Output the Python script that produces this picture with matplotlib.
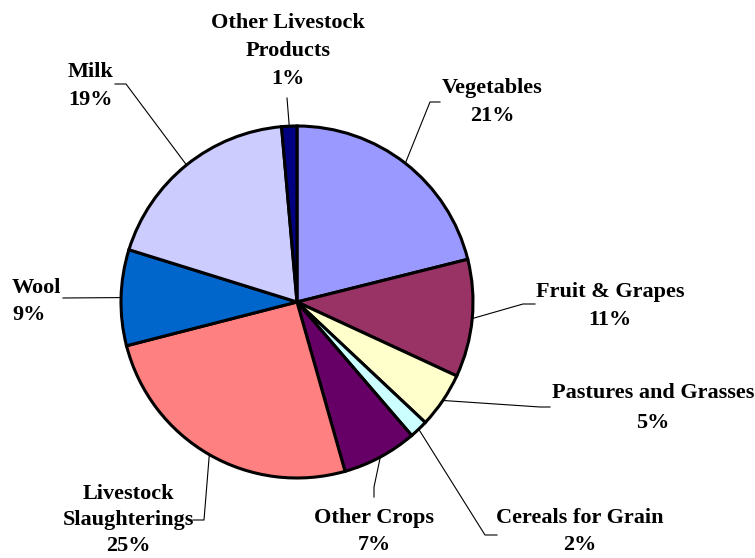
import matplotlib
matplotlib.use("Agg")
import matplotlib.pyplot as plt
import numpy as np

categories = ["Vegetables", "Fruit & Grapes", "Pastures and Grasses", "Cereals for Grain",
              "Other Crops", "Livestock\nSlaughterings", "Wool", "Milk",
              "Other Livestock\nProducts"]
values = [21.1, 10.8, 5.1, 1.7, 6.9, 25.4, 8.8, 18.8, 1.4]
colors = ["#9999FF", "#993366", "#FFFFCC", "#CCFFFF", "#660066",
          "#FF8080", "#0066CC", "#CCCCFF", "#000080"]

W, H = 755, 558
fig = plt.figure(figsize=(W / 100, H / 100), dpi=100)
ax = fig.add_axes([0, 0, 1, 1])

cx, cy, R = 297, H - 302, 176
wedges, _ = ax.pie(values, colors=colors, startangle=90, counterclock=False,
                   center=(cx, cy), radius=R, frame=True,
                   wedgeprops=dict(edgecolor="black", linewidth=2.2))
ax.set_xlim(0, W)
ax.set_ylim(0, H)
ax.set_aspect("equal")
ax.axis("off")

# label layout: (text x, top line y in pixels, ha, line gap, leader points from label side)
layout = [
    (492, 88, "center", 28, [(440, 102), (430, 102)]),
    (610, 292, "center", 28, [(535, 304), (523, 304)]),
    (653, 393, "center", 30, [(550, 407), (540, 407)]),
    (580, 518, "center", 27, [(497, 535), (485, 535)]),
    (374, 518, "center", 27, [(374, 497), (374, 487)]),
    (128, 494, "center", 26, [(193, 520), (204, 520)]),
    (12, 288, "left", 27, [(63, 298)]),
    (68, 72, "left", 28, [(115, 84), (126, 84)]),
    (288, 23, "center", 28, [(287, 98)]),
]

fs = 16
for w, cat, v, (tx, ty, ha, lh, lead) in zip(wedges, categories, values, layout):
    lines = cat.split("\n") + [f"{v:.0f}%"]
    for i, ln in enumerate(lines):
        ax.text(tx, H - (ty + i * lh), ln, ha=ha, va="center", fontsize=fs,
                fontweight="bold", family="Liberation Serif", color="black")
    mid = np.deg2rad((w.theta1 + w.theta2) / 2)
    ex, ey = cx + R * np.cos(mid), cy + R * np.sin(mid)
    pts = [(x, H - y) for x, y in lead] + [(ex, ey)]
    xs, ys = zip(*pts)
    ax.plot(xs, ys, color="black", linewidth=0.8, zorder=0.5)

fig.savefig("out.png", dpi=100, facecolor="white")
